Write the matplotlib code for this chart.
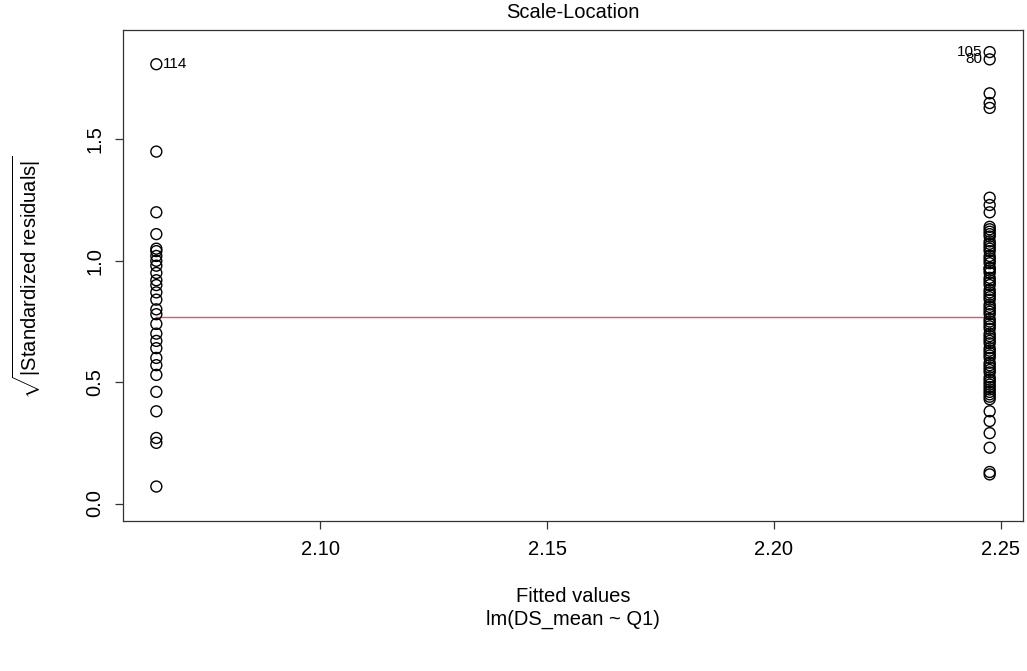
import matplotlib
matplotlib.use("Agg")
import matplotlib.pyplot as plt

plt.rcParams["font.family"] = ["Liberation Sans", "DejaVu Sans"]
plt.rcParams["mathtext.fontset"] = "custom"
plt.rcParams["mathtext.rm"] = "Liberation Sans"
plt.rcParams["mathtext.it"] = "Liberation Sans:italic"

# Fitted values of the two groups
fitted_groups = [2.0638, 2.2476]

# sqrt(|standardized residuals|) for each group
sqrt_res_low = [1.81, 1.45, 1.20, 1.11, 1.05, 1.04, 1.02, 1.00, 0.98, 0.95,
                0.92, 0.90, 0.87, 0.84, 0.80, 0.78, 0.74, 0.70, 0.67, 0.64,
                0.60, 0.57, 0.53, 0.46, 0.38, 0.27, 0.25, 0.07]
sqrt_res_high = [1.86, 1.83, 1.69, 1.65, 1.63, 1.26, 1.23, 1.20, 1.14, 1.13,
                 1.12, 1.11, 1.10, 1.08, 1.07, 1.06, 1.05, 1.04, 1.02, 1.01,
                 1.00, 0.99, 0.97, 0.97, 0.96, 0.95, 0.93, 0.92, 0.91, 0.90,
                 0.88, 0.87, 0.86, 0.85, 0.84, 0.82, 0.81, 0.80, 0.79, 0.78,
                 0.76, 0.75, 0.74, 0.73, 0.72, 0.70, 0.69, 0.68, 0.67, 0.66,
                 0.64, 0.63, 0.62, 0.61, 0.60, 0.58, 0.57, 0.56, 0.55, 0.54,
                 0.52, 0.51, 0.50, 0.49, 0.48, 0.47, 0.46, 0.45, 0.44, 0.43,
                 0.38, 0.34, 0.29, 0.23, 0.13, 0.12]

# Smoother through the points (lowess)
smooth_y = [0.77, 0.77]

# Labelled extreme observations: (group index, value, label)
id_points = [(0, 1.81, "114"), (1, 1.86, "105"), (1, 1.83, "80")]

x_ticks = [2.10, 2.15, 2.20, 2.25]
x_tick_labels = ["2.10", "2.15", "2.20", "2.25"]
y_ticks = [0.0, 0.5, 1.0, 1.5]
y_tick_labels = ["0.0", "0.5", "1.0", "1.5"]

W, H = 1027, 671
fig = plt.figure(figsize=(W / 100, H / 100), dpi=100)
ax = fig.add_axes([123 / W, 1 - 521 / H, 900 / W, 491 / H])

fs = 14.5

xs = [fitted_groups[0]] * len(sqrt_res_low) + [fitted_groups[1]] * len(sqrt_res_high)
ys = sqrt_res_low + sqrt_res_high
ax.scatter(xs, ys, s=62, facecolors="none", edgecolors="black", linewidths=1.0, zorder=3)

ax.plot(fitted_groups, smooth_y, color="#DF536B", lw=1.0, zorder=2)

for gi, val, lab in id_points:
    if gi == 0:
        ax.annotate(lab, (fitted_groups[gi], val), xytext=(5, 0), textcoords="offset points",
                    ha="left", va="center", fontsize=11)
    else:
        ax.annotate(lab, (fitted_groups[gi], val), xytext=(-5, 0), textcoords="offset points",
                    ha="right", va="center", fontsize=11)

span = fitted_groups[1] - fitted_groups[0]
ax.set_xlim(fitted_groups[0] - 0.04 * span, fitted_groups[1] + 0.04 * span)
ax.set_ylim(-0.072, 1.951)

ax.set_xticks(x_ticks)
ax.set_xticklabels(x_tick_labels, fontsize=fs)
ax.set_yticks(y_ticks)
ax.set_yticklabels(y_tick_labels, fontsize=fs, rotation=90, va="center")
ax.tick_params(direction="out", length=5.5, width=0.9, color="#333333", pad=8)

for sp in ax.spines.values():
    sp.set_linewidth(0.9)
    sp.set_color("#333333")

fig.text(573 / W, 1 - 13 / H, "Scale-Location", ha="center", va="center", fontsize=fs)
fig.text(573 / W, 1 - 597 / H, "Fitted values", ha="center", va="center", fontsize=fs)
fig.text(573 / W, 1 - 619 / H, "lm(DS_mean ~ Q1)", ha="center", va="center", fontsize=fs)
fig.text(27 / W, 1 - 277 / H, r"$\sqrt{|\mathrm{Standardized\ residuals}|}$",
         rotation=90, ha="center", va="center", fontsize=fs)

fig.savefig("out.png", dpi=100)
